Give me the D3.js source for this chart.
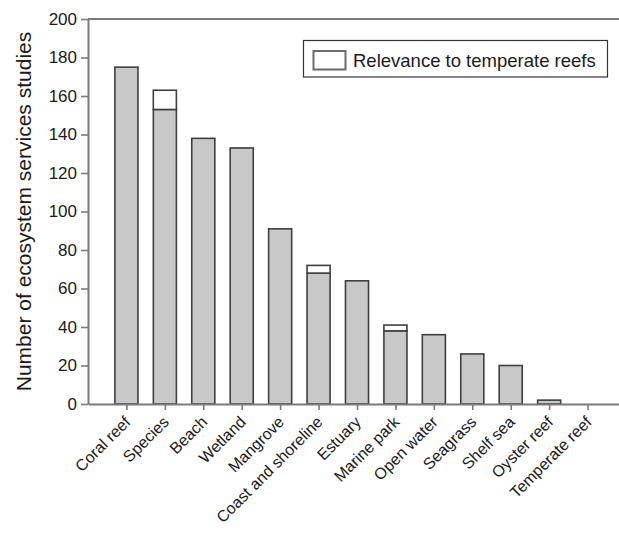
<!DOCTYPE html>
<html>
<head>
<meta charset="utf-8">
<script src="https://cdn.jsdelivr.net/npm/d3@7"></script>
<style>
  html, body { margin: 0; padding: 0; background: #fff; }
  svg { display: block; font-family: "Liberation Sans", Arial, Helvetica, sans-serif; }
</style>
</head>
<body>
<svg id="chart" width="619" height="539"></svg>
<script>
const categories = ["Coral reef", "Species", "Beach", "Wetland", "Mangrove", "Coast and shoreline",
  "Estuary", "Marine park", "Open water", "Seagrass", "Shelf sea", "Oyster reef", "Temperate reef"];
const baseValues = [175, 153, 138, 133, 91, 68, 64, 38, 36, 26, 20, 2, 0];
const temperateValues = [0, 10, 0, 0, 0, 4, 0, 3, 0, 0, 0, 0, 0];
const yTicks = [0, 20, 40, 60, 80, 100, 120, 140, 160, 180, 200];
const yTitle = "Number of ecosystem services studies";
const legendLabel = "Relevance to temperate reefs";

const svg = d3.select("#chart");
const plotLeft = 88, plotRight = 626, plotTop = 19, plotBottom = 404;

const x = d3.scaleLinear().domain([0, categories.length + 1]).range([plotLeft, plotRight]);
const y = d3.scaleLinear().domain([0, 200]).range([plotBottom, plotTop]);
const barW = (x(1) - x(0)) * 0.6;
const axisColor = "#7a7a7a";
const textColor = "#1a1a1a";

// top frame line
svg.append("line").attr("x1", plotLeft).attr("x2", plotRight).attr("y1", y(200)).attr("y2", y(200))
  .attr("stroke", axisColor).attr("stroke-width", 2);

// bars
const data = categories.map((c, i) => ({ c, i, base: baseValues[i], extra: temperateValues[i] }));
const g = svg.append("g");
g.selectAll("rect.base").data(data.filter(d => d.base > 0)).join("rect")
  .attr("class", "base")
  .attr("x", d => x(d.i + 1) - barW / 2)
  .attr("width", barW)
  .attr("y", d => y(d.base))
  .attr("height", d => y(0) - y(d.base))
  .attr("fill", "#c8c8c8").attr("stroke", "#3f3f3f").attr("stroke-width", 1.6);
g.selectAll("rect.extra").data(data.filter(d => d.extra > 0)).join("rect")
  .attr("class", "extra")
  .attr("x", d => x(d.i + 1) - barW / 2)
  .attr("width", barW)
  .attr("y", d => y(d.base + d.extra))
  .attr("height", d => y(d.base) - y(d.base + d.extra))
  .attr("fill", "#ffffff").attr("stroke", "#3f3f3f").attr("stroke-width", 1.6);

// y axis
const yAxis = svg.append("g").attr("transform", `translate(${plotLeft},0)`)
  .call(d3.axisLeft(y).tickValues(yTicks).tickSize(7).tickPadding(4).tickSizeOuter(0));
yAxis.select(".domain").attr("stroke", axisColor).attr("stroke-width", 2);
yAxis.selectAll(".tick line").attr("stroke", axisColor).attr("stroke-width", 1.6);
yAxis.selectAll(".tick text").attr("fill", textColor).style("font-size", "17px")
  .style("font-family", '"Liberation Sans", Arial, sans-serif');

// x axis
const xAxis = svg.append("g").attr("transform", `translate(0,${plotBottom})`)
  .call(d3.axisBottom(x).tickValues(d3.range(1, categories.length + 1)).tickSize(6).tickSizeOuter(0).tickFormat(""));
xAxis.select(".domain").attr("stroke", axisColor).attr("stroke-width", 2);
xAxis.selectAll(".tick line").attr("stroke", axisColor).attr("stroke-width", 1.6);

// x labels
svg.append("g").selectAll("text").data(categories).join("text")
  .attr("transform", (d, i) => `translate(${x(i + 1) + 5},${plotBottom + 19}) rotate(-45)`)
  .attr("text-anchor", "end")
  .attr("fill", textColor)
  .style("font-size", "16px")
  .text(d => d);

// y title
svg.append("text")
  .attr("transform", `translate(31,${(plotTop + plotBottom) / 2}) rotate(-90)`)
  .attr("text-anchor", "middle")
  .attr("fill", textColor)
  .style("font-size", "21px")
  .text(yTitle);

// legend
const lg = svg.append("g");
lg.append("rect").attr("x", 303.5).attr("y", 40.5).attr("width", 304).attr("height", 36.5)
  .attr("fill", "#fff").attr("stroke", "#333").attr("stroke-width", 1.2);
lg.append("rect").attr("x", 313.5).attr("y", 51).attr("width", 32).attr("height", 18.5)
  .attr("fill", "#fff").attr("stroke", "#6a6a6a").attr("stroke-width", 2);
lg.append("text").attr("x", 353).attr("y", 67).attr("fill", textColor)
  .style("font-size", "18.5px").text(legendLabel);
</script>
</body>
</html>
